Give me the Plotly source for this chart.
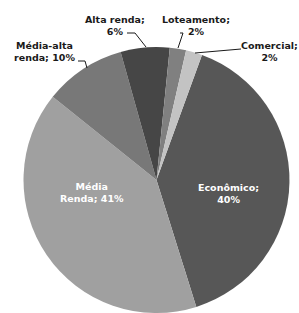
import plotly.graph_objects as go

W, H = 299, 313

# Data
categories = ["Econômico", "Média Renda", "Média-alta renda", "Alta renda", "Loteamento", "Comercial"]
values = [40, 41, 10, 6, 2, 2]
label_texts = ["Econômico;<br>40%", "Média<br>Renda; 41%", "Média-alta<br>renda; 10%",
               "Alta renda;<br>6%", "Loteamento;<br>2%", "Comercial;<br>2%"]
colors = ["#575757", "#a0a0a0", "#787878", "#464646", "#808080", "#c3c3c3"]

# Layout (pixel positions of labels and leader lines)
label_pos = [(228, 194), (92, 192), (44, 51), (115, 25), (196, 25), (269, 51)]
label_color = ["white", "white", "#1a1a1a", "#1a1a1a", "#1a1a1a", "#1a1a1a"]
leaders = [None, None,
           [(78, 61), (85, 61), (87, 68)],
           [(127, 33), (135, 33), (146, 47)],
           [(180, 33), (183, 33), (178, 48)],
           [(241, 49), (195, 53)]]

fig = go.Figure(go.Pie(
    labels=categories, values=values, sort=False, direction="clockwise",
    rotation=20, textinfo="none", hoverinfo="label+percent",
    marker=dict(colors=colors, line=dict(width=0)),
    domain=dict(x=[23 / W, 290 / W], y=[0, 266 / H]),
    showlegend=False,
))

for txt, (px, py), col in zip(label_texts, label_pos, label_color):
    fig.add_annotation(x=px / W, y=1 - py / H, xref="paper", yref="paper",
                       text=f"<b>{txt}</b>", showarrow=False,
                       font=dict(family="DejaVu Sans", size=9.5, color=col),
                       align="center", xanchor="center", yanchor="middle")

for pts in leaders:
    if pts is None:
        continue
    path = "M " + " L ".join(f"{x / W},{1 - y / H}" for x, y in pts)
    fig.add_shape(type="path", path=path, xref="paper", yref="paper",
                  line=dict(color="#1a1a1a", width=1))

fig.update_layout(width=W, height=H, margin=dict(l=0, r=0, t=0, b=0),
                  paper_bgcolor="white", plot_bgcolor="white")
fig.write_html("out.html", config={"displayModeBar": False},
               post_script="document.body.style.margin='0';document.body.style.overflow='hidden';")
